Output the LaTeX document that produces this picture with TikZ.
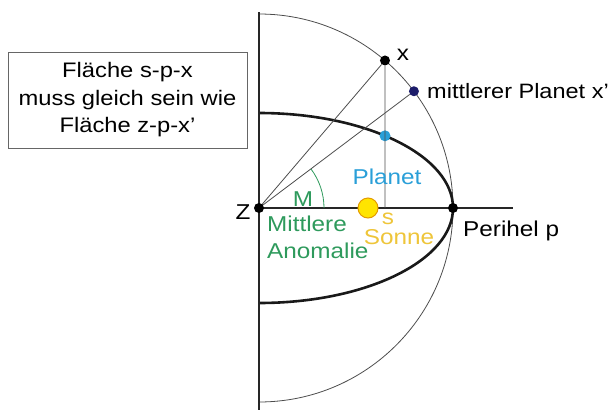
\documentclass[tikz,border=0pt]{standalone}
\usepackage{fontspec}
\setmainfont{Liberation Sans}[FakeStretch=1.13]
\usetikzlibrary{calc}
\begin{document}
\begin{tikzpicture}[x=1pt,y=-1pt,
  lbl/.style={inner sep=0pt,font=\fontsize{21.5}{27}\selectfont},
  dot/.style={circle,fill=black,inner sep=0pt,minimum size=10pt},
  axisline/.style={line width=2.4pt,draw=black!85},
  thinline/.style={line width=0.8pt,draw=black!70},
  orbit/.style={line width=2.6pt,draw=black!90}]
\definecolor{greenM}{HTML}{2E9A5C}
\definecolor{blueP}{HTML}{2A9FD8}
\definecolor{sunfill}{HTML}{FFE400}
\definecolor{sunedge}{HTML}{E39A00}
\definecolor{sontext}{HTML}{EEC53A}
\definecolor{navy}{HTML}{1C1C6A}
\useasboundingbox (0,0) rectangle (613,410);
% coordinates
\coordinate (Z) at (259,208);
\coordinate (top) at (259,12);
\coordinate (bot) at (259,410);
\coordinate (aend) at (513,208);
\coordinate (foot) at (385,208);
% circle (outer)
\draw[thinline] (Z) ++(0,-194) arc[start angle=-90,end angle=90,radius=194];
% ellipse (orbit)
\draw[orbit] (Z) ++(0,-95) arc[start angle=-90,end angle=90,x radius=194,y radius=95];
% axes
\draw[axisline] (top) -- (bot);
\draw[axisline] (Z) -- (aend);
% points
\node[dot] (x) at ($(Z)+(-49.5:194)$) {};
\node[dot,fill=navy] (xp) at ($(Z)+(-37:194)$) {};
\node[circle,fill=blueP,inner sep=0pt,minimum size=11pt] (pl) at (385,135.8) {};
% construction lines
\draw[thinline] (Z) -- (x);
\draw[thinline] (Z) -- (xp);
\draw[thinline] (x) -- (foot);
% M arc
\draw[line width=0.8pt,draw=greenM] (Z) ++(65,0) arc[start angle=0,end angle=-37,radius=65];
% sun
\node[circle,fill=sunfill,draw=sunedge,line width=1pt,minimum size=20pt,inner sep=0pt] (sun) at (368,208) {};
\node[dot] (z) at (Z) {};
\node[dot] (p) at (453,208) {};
% box
\node[draw=black!60,line width=1pt,minimum width=239pt,minimum height=96pt,inner sep=0pt,
  align=center,font=\fontsize{21}{27.5}\selectfont] (box) at (127.5,100) {Fläche s-p-x\\muss gleich sein wie\\Fläche z-p-x’};
% labels
\node[lbl] (lx) at (403,55) {x};
\node[lbl,anchor=west,font=\fontsize{20.8}{26}\selectfont] (lxp) at (427,91) {mittlerer Planet x’};
\node[lbl,text=blueP] (lpl) at (387,177) {Planet};
\node[lbl,text=greenM] (lM) at (303,199) {M};
\node[lbl] (lZ) at (243,212) {Z};
\node[lbl,text=greenM,anchor=north west,align=left] (lma) at (267,216) {Mittlere\\Anomalie};
\node[lbl,text=sontext] (ls) at (388,219) {s};
\node[lbl,text=sontext] (lson) at (399,237) {Sonne};
\node[lbl,anchor=west] (lper) at (463,231) {Perihel p};
\end{tikzpicture}
\end{document}
